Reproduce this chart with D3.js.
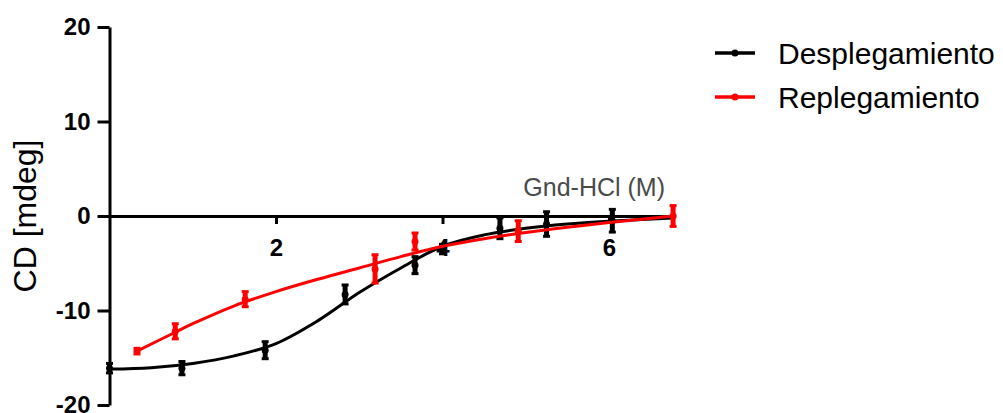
<!DOCTYPE html>
<html>
<head>
<meta charset="utf-8">
<script src="https://cdn.jsdelivr.net/npm/d3@7"></script>
<style>
  body { margin: 0; background: #fff; }
  svg { display: block; font-family: "Liberation Sans", Arial, sans-serif; }
</style>
</head>
<body>
<div id="chart"></div>
<script>
// measured points (Gnd-HCl in M, CD in mdeg)
let unfoldX   = [0, 0.87, 1.87, 2.83, 3.67, 4.0, 4.69, 5.25, 6.04];
let unfoldY   = [-16.1, -16.1, -14.2, -8.3, -5.2, -3.5, -1.3, -0.85, -0.5];
let unfoldErr = [0.5, 0.7, 0.9, 1.0, 0.9, 0.5, 1.1, 1.3, 1.2];

let refoldX   = [0.33, 0.79, 1.63, 3.19, 3.67, 4.91, 6.77];
let refoldY   = [-14.3, -12.2, -8.8, -5.6, -2.7, -1.6, 0];
let refoldErr = [0.3, 0.8, 0.8, 1.5, 0.9, 1.1, 1.1];

// fitted curves
let unfoldFitX = [0, 0.5, 1, 1.5, 2, 2.5, 3, 3.5, 4, 4.5, 5, 5.5, 6, 6.77];
let unfoldFitY = [-16.2, -16.05, -15.6, -14.8, -13.5, -11.1, -8.1, -5.5, -3.2, -2.0, -1.3, -0.85, -0.55, -0.2];
let refoldFitX = [0.33, 0.79, 1, 1.5, 2, 2.5, 3, 3.5, 4, 4.5, 5, 5.5, 6, 6.77];
let refoldFitY = [-14.3, -12.3, -11.4, -9.5, -8.0, -6.7, -5.5, -4.3, -3.2, -2.4, -1.75, -1.2, -0.7, 0];

let xTicks = [2, 4, 6];
let yTicks = [-20, -10, 0, 10, 20];

let series = [
    {name: 'Desplegamiento', color: '#000000', x: unfoldX, y: unfoldY, err: unfoldErr, fx: unfoldFitX, fy: unfoldFitY},
    {name: 'Replegamiento',  color: '#ff0000', x: refoldX, y: refoldY, err: refoldErr, fx: refoldFitX, fy: refoldFitY}
];

const width = 1003, height = 413;

let svg = d3.select('#chart').append('svg')
    .attr('width', width)
    .attr('height', height);

let x = d3.scaleLinear().domain([0, 6.8]).range([109.5, 675.6]);
let y = d3.scaleLinear().domain([-20, 20]).range([405, 27]);

let fmt = function(d) { return String(d); };  // plain hyphen minus like the original

// y axis
let yAxis = svg.append('g')
    .attr('transform', 'translate(' + x(0) + ',0)')
    .call(d3.axisLeft(y).tickValues(yTicks).tickFormat(fmt).tickSize(12).tickPadding(7).tickSizeOuter(0));

// x axis sits on CD = 0
let xAxis = svg.append('g')
    .attr('transform', 'translate(0,' + y(0) + ')')
    .call(d3.axisBottom(x).tickValues(xTicks).tickFormat(fmt).tickSize(8).tickPadding(15).tickSizeOuter(0));

[yAxis, xAxis].forEach(function(ax) {
    ax.select('.domain').attr('stroke', '#000').attr('stroke-width', 3);
    ax.selectAll('.tick line').attr('stroke', '#000').attr('stroke-width', 3);
    ax.selectAll('.tick text')
        .attr('fill', '#000')
        .style('font-size', '24px')
        .style('font-weight', 'bold')
        .style('font-family', '"Liberation Sans", Arial, sans-serif');
});

// axis titles
svg.append('text')
    .attr('transform', 'translate(36,' + y(0) + ') rotate(-90)')
    .attr('text-anchor', 'middle')
    .style('font-size', '32px')
    .attr('fill', '#000')
    .text('CD [mdeg]');

svg.append('text')
    .attr('x', 665)
    .attr('y', 196)
    .attr('text-anchor', 'end')
    .style('font-size', '25px')
    .attr('fill', '#4a4a4a')
    .text('Gnd-HCl (M)');

let line = d3.line()
    .x(function(d) { return x(d[0]); })
    .y(function(d) { return y(d[1]); })
    .curve(d3.curveCatmullRom.alpha(0.5));

series.forEach(function(s) {
    let g = svg.append('g');

    g.append('path')
        .datum(s.fx.map(function(v, i) { return [v, s.fy[i]]; }))
        .attr('fill', 'none')
        .attr('stroke', s.color)
        .attr('stroke-width', 3)
        .attr('d', line);

    let pts = s.x.map(function(v, i) { return {x: v, y: s.y[i], e: s.err[i]}; });

    // error bars
    g.selectAll('line.err')
        .data(pts)
        .enter().append('line')
        .attr('class', 'err')
        .attr('x1', function(d) { return x(d.x); })
        .attr('x2', function(d) { return x(d.x); })
        .attr('y1', function(d) { return y(d.y - d.e); })
        .attr('y2', function(d) { return y(d.y + d.e); })
        .attr('stroke', s.color)
        .attr('stroke-width', 5);

    [-1, 1].forEach(function(sign) {
        g.selectAll('line.cap' + sign)
            .data(pts)
            .enter().append('line')
            .attr('x1', function(d) { return x(d.x) - 3.5; })
            .attr('x2', function(d) { return x(d.x) + 3.5; })
            .attr('y1', function(d) { return y(d.y + sign * d.e); })
            .attr('y2', function(d) { return y(d.y + sign * d.e); })
            .attr('stroke', s.color)
            .attr('stroke-width', 3);
    });

    g.selectAll('circle')
        .data(pts)
        .enter().append('circle')
        .attr('cx', function(d) { return x(d.x); })
        .attr('cy', function(d) { return y(d.y); })
        .attr('r', 3.5)
        .attr('fill', s.color);
});

// legend
let leg = svg.append('g').attr('transform', 'translate(715,53)');
let items = leg.selectAll('g')
    .data(series)
    .enter().append('g')
    .attr('transform', function(d, i) { return 'translate(0,' + (i * 44) + ')'; });

items.append('line')
    .attr('x1', 0).attr('x2', 40)
    .attr('stroke', function(d) { return d.color; })
    .attr('stroke-width', 3.5);
items.append('circle')
    .attr('cx', 20)
    .attr('r', 3.5)
    .attr('fill', function(d) { return d.color; });
items.append('text')
    .attr('x', 63)
    .attr('dy', '0.35em')
    .style('font-size', '30px')
    .attr('fill', '#000')
    .text(function(d) { return d.name; });
</script>
</body>
</html>
